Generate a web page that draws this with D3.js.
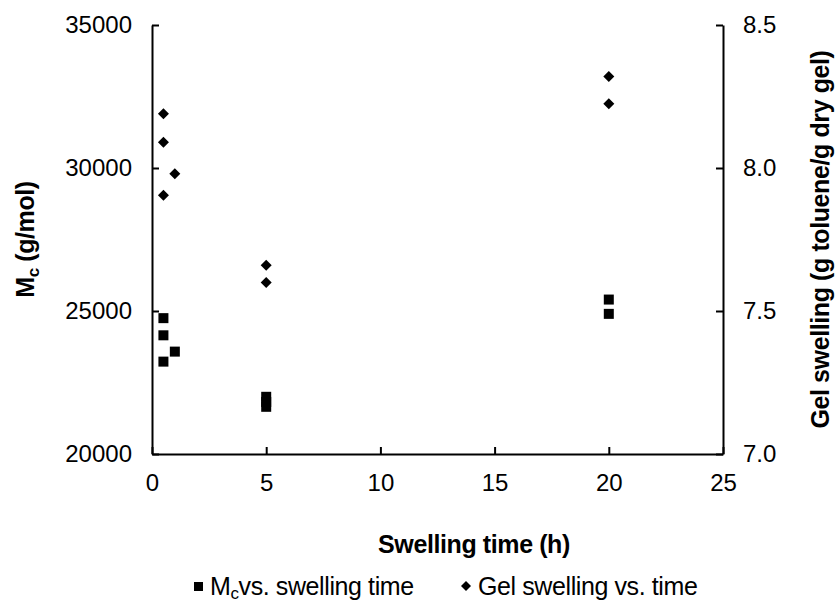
<!DOCTYPE html>
<html>
<head>
<meta charset="utf-8">
<script src="https://cdn.jsdelivr.net/npm/d3@7"></script>
<style>
    body { margin: 0; background: #fff; }
    svg { font-family: "Liberation Sans", Arial, sans-serif; }
</style>
</head>
<body>
<svg id="chart"></svg>
<script>
    // swelling time (h) and measured values
    const mcTimes = [0.5, 0.5, 0.5, 1, 5, 5, 5, 20, 20];
    const mcValues = [24750, 24150, 23230, 23580, 22000, 21820, 21650, 25400, 24900];
    const gelTimes = [0.5, 0.5, 0.5, 1, 5, 5, 20, 20];
    const gelValues = [8.19, 8.09, 7.905, 7.98, 7.66, 7.60, 8.32, 8.225];

    const xTicks = [0, 5, 10, 15, 20, 25];
    const yLeftTicks = [20000, 25000, 30000, 35000];
    const yRightTicks = [7.0, 7.5, 8.0, 8.5];

    const svgWidth = 838;
    const svgHeight = 602;
    const margin = { top: 25, right: 115, bottom: 148, left: 152 };

    const svg = d3.select("#chart")
        .attr("width", svgWidth)
        .attr("height", svgHeight);

    const xScale = d3.scaleLinear()
        .domain([0, 25])
        .range([margin.left, svgWidth - margin.right]);

    const yLeft = d3.scaleLinear()
        .domain([20000, 35000])
        .range([svgHeight - margin.bottom, margin.top]);

    const yRight = d3.scaleLinear()
        .domain([7.0, 8.5])
        .range([svgHeight - margin.bottom, margin.top]);

    // axes (ticks point inward)
    const xAxis = svg.append("g")
        .attr("transform", `translate(0, ${svgHeight - margin.bottom})`)
        .call(d3.axisBottom(xScale).tickValues(xTicks).tickSize(-7).tickPadding(20).tickSizeOuter(0));

    const leftAxis = svg.append("g")
        .attr("transform", `translate(${margin.left}, 0)`)
        .call(d3.axisLeft(yLeft).tickValues(yLeftTicks).tickFormat(d3.format("d")).tickSize(-7).tickPadding(20).tickSizeOuter(0));

    const rightAxis = svg.append("g")
        .attr("transform", `translate(${svgWidth - margin.right}, 0)`)
        .call(d3.axisRight(yRight).tickValues(yRightTicks).tickFormat(d3.format(".1f")).tickSize(-7).tickPadding(20).tickSizeOuter(0));

    [xAxis, leftAxis, rightAxis].forEach(ax => {
        ax.select(".domain").attr("stroke", "#000").attr("stroke-width", 2);
        ax.selectAll(".tick line").attr("stroke", "#000").attr("stroke-width", 2);
        ax.selectAll("text")
            .attr("fill", "#000")
            .style("font-size", "24px")
            .style("font-family", "Liberation Sans, Arial, sans-serif");
    });

    // Mc squares
    svg.selectAll(".mc")
        .data(mcValues)
        .enter()
        .append("rect")
        .attr("class", "mc")
        .attr("x", (d, i) => xScale(mcTimes[i]) - 5)
        .attr("y", d => yLeft(d) - 5)
        .attr("width", 10)
        .attr("height", 10)
        .attr("fill", "#000");

    // gel swelling diamonds
    const diamond = "M0,-5.5L5.5,0L0,5.5L-5.5,0Z";
    svg.selectAll(".gel")
        .data(gelValues)
        .enter()
        .append("path")
        .attr("class", "gel")
        .attr("d", diamond)
        .attr("transform", (d, i) => `translate(${xScale(gelTimes[i])}, ${yRight(d)})`)
        .attr("fill", "#000");

    // axis titles
    svg.append("text")
        .attr("x", 474)
        .attr("y", 553)
        .attr("text-anchor", "middle")
        .style("font-size", "25px")
        .style("font-weight", "bold")
        .style("letter-spacing", "-0.4px")
        .text("Swelling time (h)");

    const leftTitle = svg.append("text")
        .attr("transform", `translate(34, ${(margin.top + svgHeight - margin.bottom) / 2}) rotate(-90)`)
        .attr("text-anchor", "middle")
        .style("font-size", "25px")
        .style("font-weight", "bold")
        .style("letter-spacing", "-0.4px");
    leftTitle.append("tspan").text("M");
    leftTitle.append("tspan").attr("dy", 5).style("font-size", "17px").text("c");
    leftTitle.append("tspan").attr("dy", -5).text(" (g/mol)");

    svg.append("text")
        .attr("transform", `translate(829, ${(margin.top + svgHeight - margin.bottom) / 2}) rotate(-90)`)
        .attr("text-anchor", "middle")
        .style("font-size", "25px")
        .style("font-weight", "bold")
        .style("letter-spacing", "-0.4px")
        .text("Gel swelling (g toluene/g dry gel)");

    // legend
    const legend = svg.append("g").attr("transform", "translate(0, 595)");
    legend.append("rect")
        .attr("x", 194).attr("y", -13)
        .attr("width", 9).attr("height", 9)
        .attr("fill", "#000");
    const lt1 = legend.append("text")
        .attr("x", 210).attr("y", 0)
        .style("font-size", "25px")
        .style("letter-spacing", "-0.4px");
    lt1.append("tspan").text("M");
    lt1.append("tspan").attr("dy", 4).style("font-size", "17px").text("c");
    lt1.append("tspan").attr("dy", -4).text("vs. swelling time");

    legend.append("path")
        .attr("d", "M0,-5L5,0L0,5L-5,0Z")
        .attr("transform", "translate(466, -9)")
        .attr("fill", "#000");
    legend.append("text")
        .attr("x", 478).attr("y", 0)
        .style("font-size", "25px")
        .style("letter-spacing", "-0.4px")
        .text("Gel swelling vs. time");
</script>
</body>
</html>
